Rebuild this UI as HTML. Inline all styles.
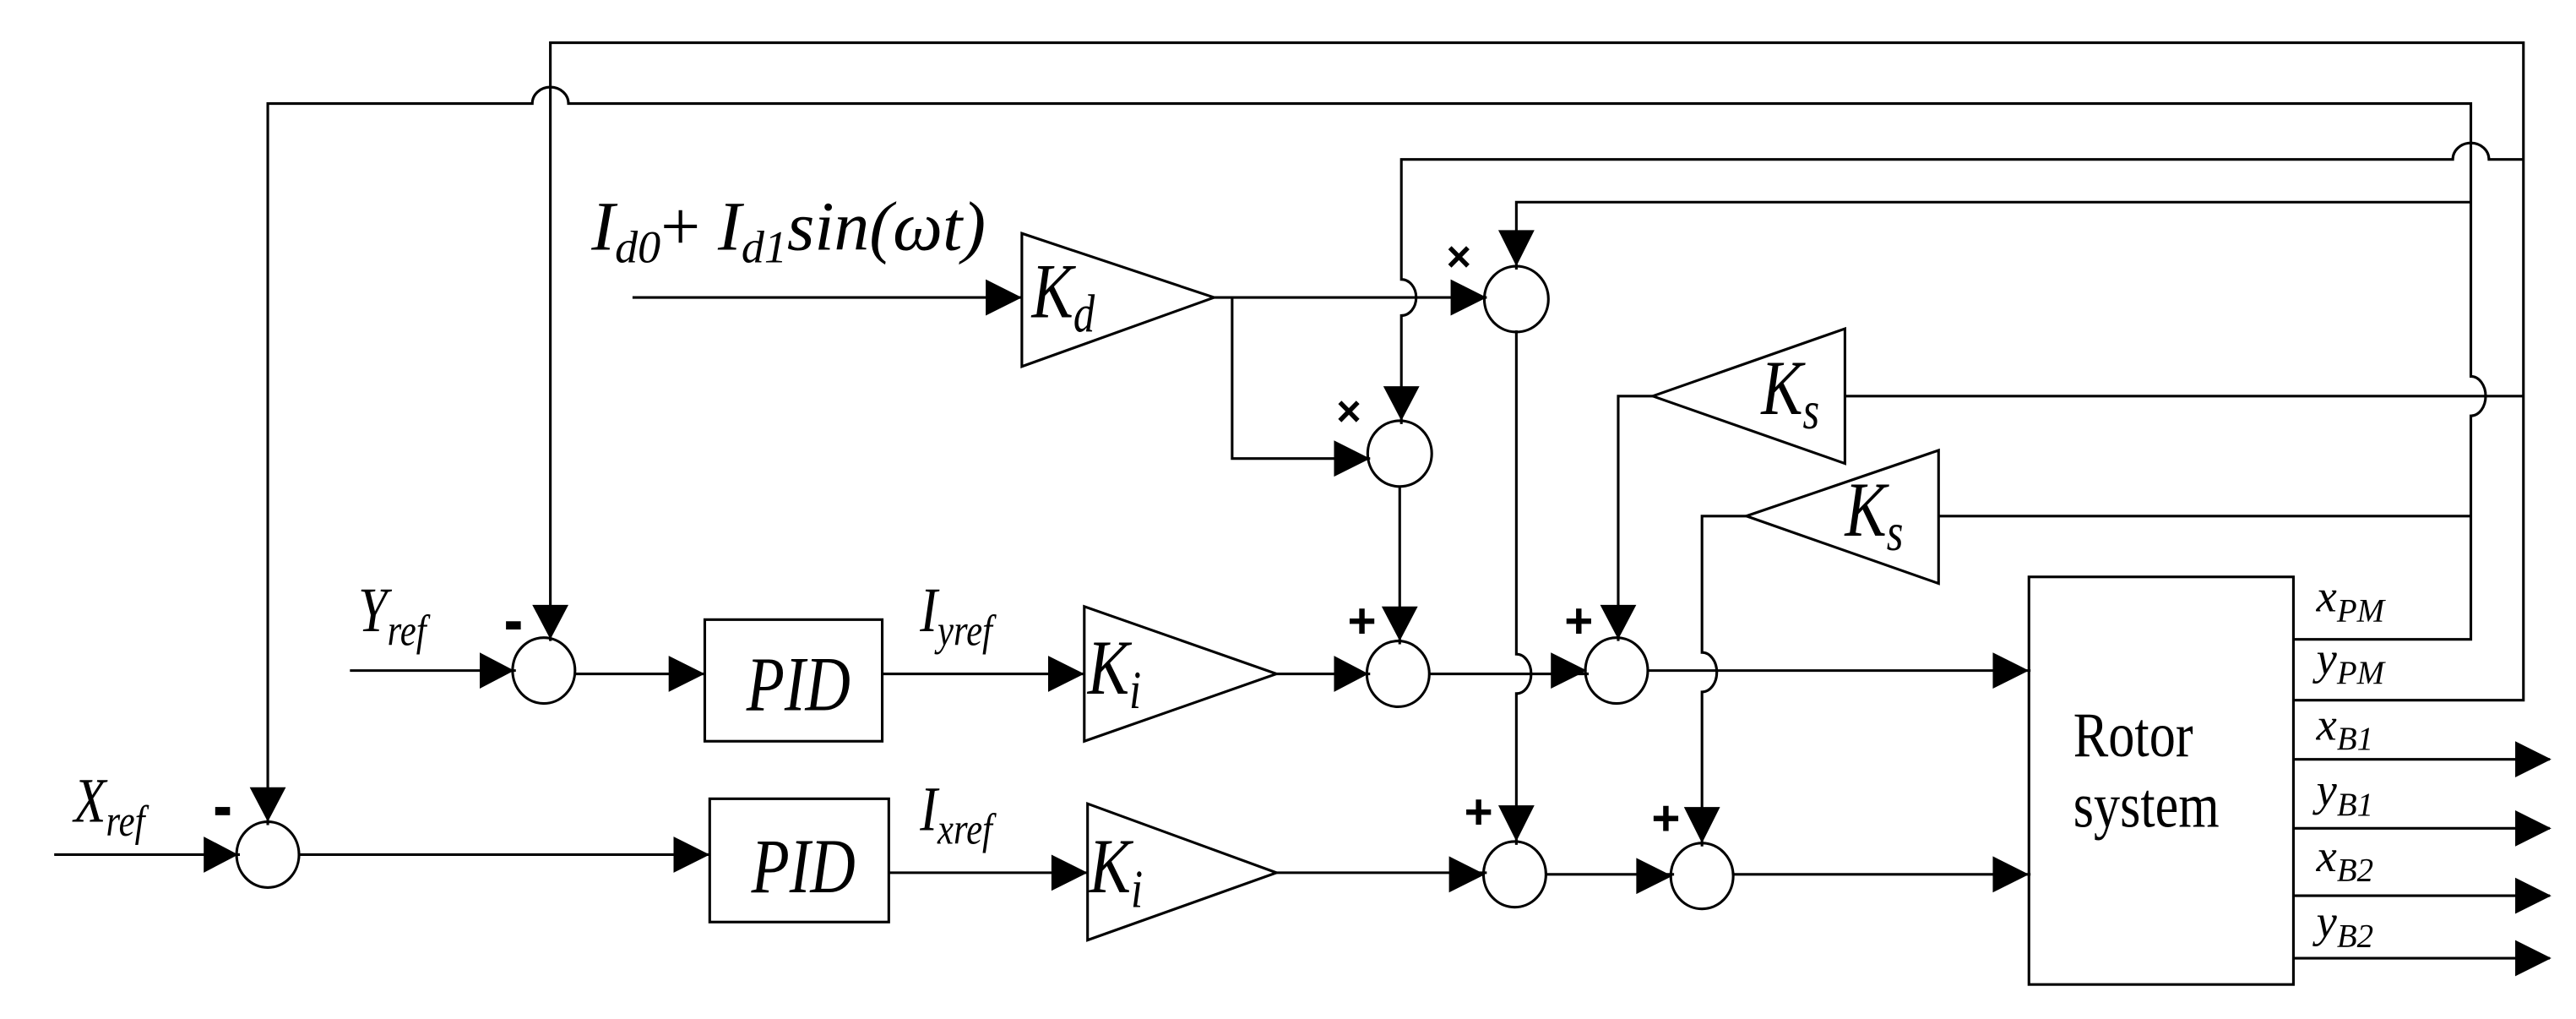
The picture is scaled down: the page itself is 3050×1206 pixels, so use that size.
<!DOCTYPE html>
<html><head><meta charset="utf-8"><style>
html,body{margin:0;padding:0;background:#fff;}
svg{display:block;}
text{font-family:"Liberation Serif",serif;font-style:italic;fill:#000;}
.s{font-family:"Liberation Sans",sans-serif;font-style:normal;font-weight:bold;}
.r{font-style:normal;}
</style></head><body>
<svg width="3050" height="1206" viewBox="0 0 1568 620" preserveAspectRatio="none" xmlns="http://www.w3.org/2000/svg">
<g fill="none" stroke="#000" stroke-width="1.6">
<path d="M1396,426 H1536 V26 H335 V390"/>
<path d="M1396,389 H1504 V253 a9,12 0 0 0 0,-24 V63 H346 a11,10 0 0 0 -22,0 H163 V502"/>
<path d="M1536,97 H1515 a11,10 0 0 0 -22,0 H853 V170 a9,11 0 0 1 0,22 V258"/>
<path d="M1504,123 H923 V164"/>
<path d="M385,181 H622"/>
<polygon points="622,142 622,223 739,181"/>
<path d="M739,181 H905"/>
<path d="M750,181 V279 H834"/>
<path d="M852,296 V392"/>
<path d="M923,201 V398 a9,12 0 0 1 0,24 V514"/>
<path d="M213,408 H314"/>
<path d="M350,410 H429"/>
<rect x="429" y="377" width="108" height="74"/>
<path d="M537,410 H660"/>
<polygon points="660,369 660,451 777,410"/>
<path d="M777,410 H834"/>
<path d="M870,410 H967"/>
<path d="M1003,408 H1236"/>
<polygon points="1006,241 1123,200 1123,282"/>
<path d="M1536,241 H1123"/>
<path d="M1006,241 H985 V390"/>
<polygon points="1063,314 1180,274 1180,355"/>
<path d="M1504,314 H1180"/>
<path d="M1063,314 H1036 V397 a9,12 0 0 1 0,24 V515"/>
<path d="M33,520 H146"/>
<path d="M182,520 H432"/>
<rect x="432" y="486" width="109" height="75"/>
<path d="M541,531 H662"/>
<polygon points="662,489 662,572 777,531"/>
<path d="M777,531 H905"/>
<path d="M941,532 H1019"/>
<path d="M1055,532 H1236"/>
<rect x="1235" y="351" width="161" height="248"/>
<path d="M1396,462 H1552 M1396,504 H1552 M1396,545 H1552 M1396,583 H1552"/>
<ellipse cx="331" cy="408" rx="19" ry="20"/>
<ellipse cx="163" cy="520" rx="19" ry="20"/>
<ellipse cx="923" cy="182" rx="19.5" ry="20"/>
<ellipse cx="852" cy="276" rx="19.5" ry="20"/>
<ellipse cx="851" cy="410" rx="19" ry="20"/>
<ellipse cx="984" cy="408" rx="19" ry="20"/>
<ellipse cx="922" cy="532" rx="19" ry="20"/>
<ellipse cx="1036" cy="533" rx="19" ry="20"/>
</g>
<g fill="#000">
<polygon points="600,170 622,181 600,192"/>
<polygon points="883,170 905,181 883,192"/>
<polygon points="812,268 834,279 812,290"/>
<polygon points="292,397 313,408 292,419"/>
<polygon points="407,399 429,410 407,421"/>
<polygon points="638,399 660,410 638,421"/>
<polygon points="812,399 833,410 812,421"/>
<polygon points="944,397 966,408 944,419"/>
<polygon points="1213,397 1235,408 1213,419"/>
<polygon points="124,509 145,520 124,531"/>
<polygon points="410,509 432,520 410,531"/>
<polygon points="640,520 662,531 640,542"/>
<polygon points="882,521 904,532 882,543"/>
<polygon points="996,522 1018,533 996,544"/>
<polygon points="1213,521 1235,532 1213,543"/>
<polygon points="1531,451 1553,462 1531,473"/>
<polygon points="1531,493 1553,504 1531,515"/>
<polygon points="1531,534 1553,545 1531,556"/>
<polygon points="1531,572 1553,583 1531,594"/>
<polygon points="324,368 335,389 346,368"/>
<polygon points="152,479 163,500 174,479"/>
<polygon points="842,235 853,256 864,235"/>
<polygon points="912,140 923,162 934,140"/>
<polygon points="841,369 852,390 863,369"/>
<polygon points="974,368 985,389 996,368"/>
<polygon points="912,490 923,512 934,490"/>
<polygon points="1025,491 1036,513 1047,491"/>
<rect x="308" y="378" width="9" height="5"/>
<rect x="131" y="491" width="9" height="5"/>
</g>
<text class="s" x="829" y="388" font-size="30" text-anchor="middle">+</text>
<text class="s" x="961" y="388" font-size="30" text-anchor="middle">+</text>
<text class="s" x="900" y="504" font-size="30" text-anchor="middle">+</text>
<text class="s" x="1014" y="508" font-size="30" text-anchor="middle">+</text>
<text class="s" x="888" y="165" font-size="26" text-anchor="middle">×</text>
<text class="s" x="821" y="259" font-size="26" text-anchor="middle">×</text>
<g transform="translate(360,152) scale(1,1.25)"><text x="0" y="0" font-size="34" textLength="240" lengthAdjust="spacingAndGlyphs">I<tspan font-size="22" dy="6">d0</tspan><tspan dy="-6" class="r">+</tspan> I<tspan font-size="22" dy="6">d1</tspan><tspan dy="-6">sin(ωt)</tspan></text></g>
<g transform="translate(628,193) scale(1,1.25)"><text font-size="38">K<tspan font-size="26" dy="7">d</tspan></text></g>
<g transform="translate(662,422) scale(1,1.25)"><text font-size="38">K<tspan font-size="26" dy="7">i</tspan></text></g>
<g transform="translate(663,543) scale(1,1.25)"><text font-size="38">K<tspan font-size="26" dy="7">i</tspan></text></g>
<g transform="translate(1072,252) scale(1,1.25)"><text font-size="38">K<tspan font-size="26" dy="7">s</tspan></text></g>
<g transform="translate(1123,326) scale(1,1.25)"><text font-size="38">K<tspan font-size="26" dy="7">s</tspan></text></g>
<g transform="translate(486,432) scale(1,1.25)"><text font-size="38" text-anchor="middle">PID</text></g>
<g transform="translate(489,543) scale(1,1.25)"><text font-size="38" text-anchor="middle">PID</text></g>
<g transform="translate(218,384) scale(1,1.2)"><text font-size="32">Y<tspan font-size="22" dy="7">ref</tspan></text></g>
<g transform="translate(45,500) scale(1,1.2)"><text font-size="32">X<tspan font-size="22" dy="7">ref</tspan></text></g>
<g transform="translate(560,384) scale(1,1.2)"><text font-size="32">I<tspan font-size="22" dy="7">yref</tspan></text></g>
<g transform="translate(560,505) scale(1,1.2)"><text font-size="32">I<tspan font-size="22" dy="7">xref</tspan></text></g>
<g transform="translate(1262,460) scale(1,1.2)"><text class="r" font-size="32">Rotor</text></g>
<g transform="translate(1262,503) scale(1,1.2)"><text class="r" font-size="32">system</text></g>
<text x="1410" y="372" font-size="28">x<tspan font-size="20" dy="6">PM</tspan></text>
<text x="1410" y="410" font-size="28">y<tspan font-size="20" dy="6">PM</tspan></text>
<text x="1410" y="450" font-size="28">x<tspan font-size="20" dy="6">B1</tspan></text>
<text x="1410" y="490" font-size="28">y<tspan font-size="20" dy="6">B1</tspan></text>
<text x="1410" y="530" font-size="28">x<tspan font-size="20" dy="6">B2</tspan></text>
<text x="1410" y="570" font-size="28">y<tspan font-size="20" dy="6">B2</tspan></text>
</svg>
</body></html>
